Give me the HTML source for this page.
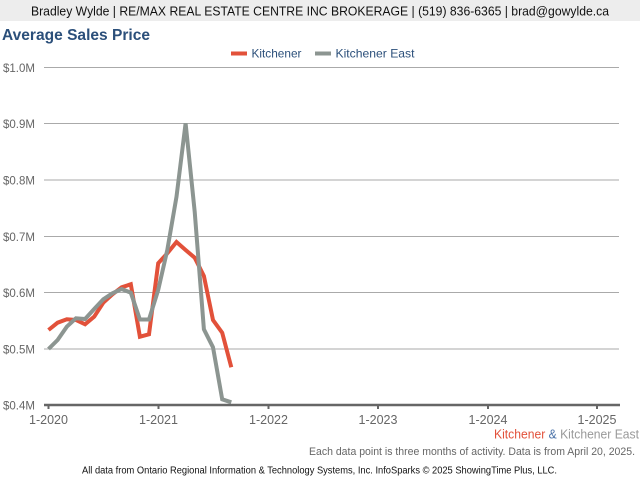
<!DOCTYPE html>
<html><head><meta charset="utf-8"><style>
html,body{margin:0;padding:0;background:#fff;}
svg{display:block;font-family:"Liberation Sans",Arial,sans-serif;}
</style></head><body>
<svg width="640" height="480" viewBox="0 0 640 480" xmlns="http://www.w3.org/2000/svg">
<rect x="0" y="0" width="640" height="480" fill="#fff"/>
<rect x="0" y="0" width="640" height="21" fill="#ededed"/>
<text x="31" y="15.5" font-size="12.5" fill="#111" textLength="578" lengthAdjust="spacingAndGlyphs">Bradley Wylde | RE/MAX REAL ESTATE CENTRE INC BROKERAGE | (519) 836-6365 | brad@gowylde.ca</text>
<text x="2" y="40" font-size="16" font-weight="bold" fill="#2b4f7a" textLength="148" lengthAdjust="spacingAndGlyphs">Average Sales Price</text>
<!-- legend -->
<rect x="231" y="51.5" width="16" height="4" fill="#e2513a"/>
<text x="251.5" y="57.5" font-size="12" fill="#2b4f7a" textLength="50" lengthAdjust="spacingAndGlyphs">Kitchener</text>
<rect x="315" y="51.5" width="16" height="4" fill="#8c9591"/>
<text x="335.5" y="57.5" font-size="12" fill="#2b4f7a" textLength="79" lengthAdjust="spacingAndGlyphs">Kitchener East</text>
<!-- gridlines -->
<g stroke="#aaaaaa" stroke-width="1">
<line x1="44" y1="67.5" x2="619" y2="67.5"/>
<line x1="44" y1="123.5" x2="619" y2="123.5"/>
<line x1="44" y1="180" x2="619" y2="180"/>
<line x1="44" y1="236.5" x2="619" y2="236.5"/>
<line x1="44" y1="292.5" x2="619" y2="292.5"/>
<line x1="44" y1="349" x2="619" y2="349"/>
</g>
<g font-size="12" fill="#666">
<text x="3" y="72" textLength="32" lengthAdjust="spacingAndGlyphs">$1.0M</text>
<text x="3" y="128" textLength="32" lengthAdjust="spacingAndGlyphs">$0.9M</text>
<text x="3" y="184.5" textLength="32" lengthAdjust="spacingAndGlyphs">$0.8M</text>
<text x="3" y="241" textLength="32" lengthAdjust="spacingAndGlyphs">$0.7M</text>
<text x="3" y="297" textLength="32" lengthAdjust="spacingAndGlyphs">$0.6M</text>
<text x="3" y="353.5" textLength="32" lengthAdjust="spacingAndGlyphs">$0.5M</text>
<text x="3" y="409.5" textLength="32" lengthAdjust="spacingAndGlyphs">$0.4M</text>
</g>
<!-- series -->
<polyline fill="none" stroke="#e2513a" stroke-width="4" stroke-linejoin="miter" points="48.5,330 57.6,322.7 66.8,319.3 75.9,320 85.1,324.3 94.2,316.7 103.3,302.7 112.5,294.3 121.6,287.3 130.8,284.3 139.9,336.7 149,334.3 158.2,263.3 167.3,253.3 176.5,242 185.6,250 194.7,257.7 203.9,276 213,320 222.2,332.7 231.3,367.3"/>
<polyline fill="none" stroke="#8c9591" stroke-width="4" stroke-linejoin="miter" points="48.5,349 57.6,340 66.8,326.7 75.9,318.3 85.1,319 94.2,309 103.3,299.3 112.5,293.3 121.6,289 130.8,292.7 139.9,319.5 149,319.5 158.2,290 167.3,250 176.5,196.7 185.6,123.3 194.7,211.7 203.9,329.3 213,347.3 222.2,399.3 231.3,402.3"/>
<!-- axis -->
<line x1="44" y1="405" x2="620" y2="405" stroke="#666" stroke-width="2.5"/>
<g stroke="#666" stroke-width="2">
<line x1="48.5" y1="405" x2="48.5" y2="409"/>
<line x1="158.5" y1="405" x2="158.5" y2="409"/>
<line x1="268.5" y1="405" x2="268.5" y2="409"/>
<line x1="378" y1="405" x2="378" y2="409"/>
<line x1="488" y1="405" x2="488" y2="409"/>
<line x1="597" y1="405" x2="597" y2="409"/>
</g>
<g font-size="12.5" fill="#666" text-anchor="middle">
<text x="48.5" y="424">1-2020</text>
<text x="158.5" y="424">1-2021</text>
<text x="268.5" y="424">1-2022</text>
<text x="378" y="424">1-2023</text>
<text x="488" y="424">1-2024</text>
<text x="597" y="424">1-2025</text>
</g>
<text x="494" y="438.5" font-size="12.5" textLength="145" lengthAdjust="spacingAndGlyphs"><tspan fill="#e2513a">Kitchener</tspan><tspan fill="#4a72a8"> &amp; </tspan><tspan fill="#999">Kitchener East</tspan></text>
<text x="309" y="455" font-size="11" fill="#666" textLength="326" lengthAdjust="spacingAndGlyphs">Each data point is three months of activity. Data is from April 20, 2025.</text>
<text x="82" y="473.5" font-size="10" fill="#111" textLength="475" lengthAdjust="spacingAndGlyphs">All data from Ontario Regional Information &amp; Technology Systems, Inc. InfoSparks © 2025 ShowingTime Plus, LLC.</text>
</svg>
</body></html>
